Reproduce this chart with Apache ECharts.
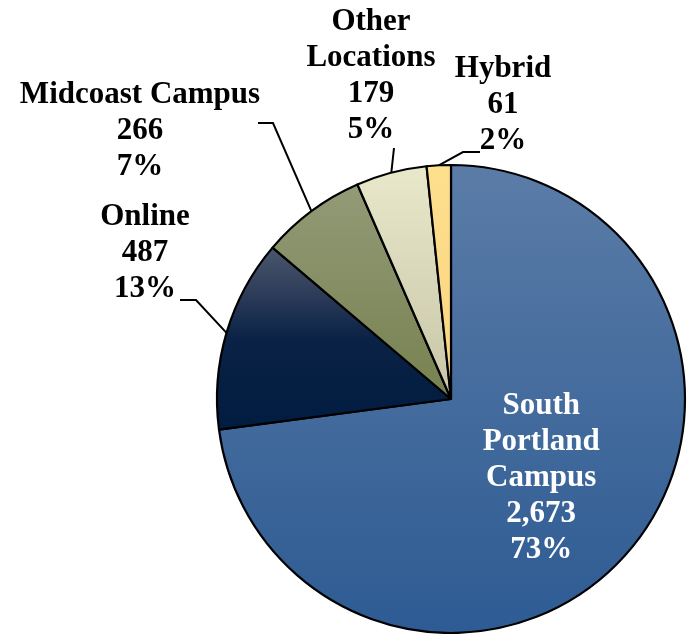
<!DOCTYPE html>
<html>
<head>
<meta charset="utf-8">
<script src="https://cdn.jsdelivr.net/npm/echarts@6/dist/echarts.min.js"></script>
<style>
html,body{margin:0;padding:0;background:#fff;}
#chart{width:690px;height:634px;}
</style>
</head>
<body>
<div id="chart"></div>
<script>
// ---- data ----
const categories = ['South Portland Campus', 'Online', 'Midcoast Campus', 'Other Locations', 'Hybrid'];
const labelNames = ['South\nPortland\nCampus', 'Online', 'Midcoast Campus', 'Other\nLocations', 'Hybrid'];
const enrollment = [2673, 487, 266, 179, 61];

// ---- styling / layout (kept separate from data) ----
const sliceColors = [
  [[0, '#5b7ca7'], [1, '#2d5b93']],
  [[0, '#4c576d'], [0.25, '#2e3d5a'], [0.5, '#0a2246'], [1, '#001c40']],
  [[0, '#939a77'], [1, '#76814f']],
  [[0, '#e9e8ca'], [1, '#c8c5a9']],
  [[0, '#fddf8e'], [1, '#fbd57e']]
];
const labelPlace = {
  'Online':          { cx: 145, cy: 253, end: [180, 300], elbow: [196, 300] },
  'Midcoast Campus': { cx: 140, cy: 131, end: [258, 123], elbow: [273, 123] },
  'Other Locations': { cx: 371, cy: 76,  end: [394, 148], elbow: [394, 148] },
  'Hybrid':          { cx: 503, cy: 105, end: [480, 152], elbow: [463, 152] }
};

const fmt = v => v.toLocaleString('en-US');

const chart = echarts.init(document.getElementById('chart'), null, { renderer: 'canvas' });

const seriesData = categories.map((c, i) => {
  const item = {
    name: c,
    value: enrollment[i],
    itemStyle: {
      color: new echarts.graphic.LinearGradient(0, 0, 0, 1,
        sliceColors[i].map(s => ({ offset: s[0], color: s[1] })))
    }
  };
  if (i === 0) {
    item.label = { position: 'inside', color: '#ffffff' };
    item.labelLine = { show: false };
  }
  return item;
});

chart.setOption({
  animation: false,
  backgroundColor: '#ffffff',
  series: [{
    type: 'pie',
    center: [451, 399],
    radius: [0, 234],
    startAngle: 90,
    clockwise: true,
    avoidLabelOverlap: false,
    data: seriesData,
    itemStyle: { borderColor: '#000000', borderWidth: 2.2 },
    label: {
      show: true,
      position: 'outside',
      color: '#000000',
      fontFamily: 'Liberation Serif',
      fontWeight: 'bold',
      fontSize: 31,
      lineHeight: 36,
      align: 'center',
      formatter: p => labelNames[p.dataIndex] + '\n' + fmt(p.value) + '\n' + Math.round(p.percent) + '%'
    },
    labelLine: {
      show: true,
      length: 20,
      length2: 15,
      lineStyle: { color: '#000000', width: 2 }
    },
    labelLayout: function (p) {
      const name = categories[p.dataIndex];
      const L = labelPlace[name];
      if (!L) return {};
      const pts = p.labelLinePoints;
      const res = { x: L.cx, y: L.cy, align: 'center', verticalAlign: 'middle' };
      if (pts && pts.length) {
        res.labelLinePoints = [pts[0].slice(), L.elbow, L.end];
      }
      return res;
    }
  }]
});
</script>
</body>
</html>
